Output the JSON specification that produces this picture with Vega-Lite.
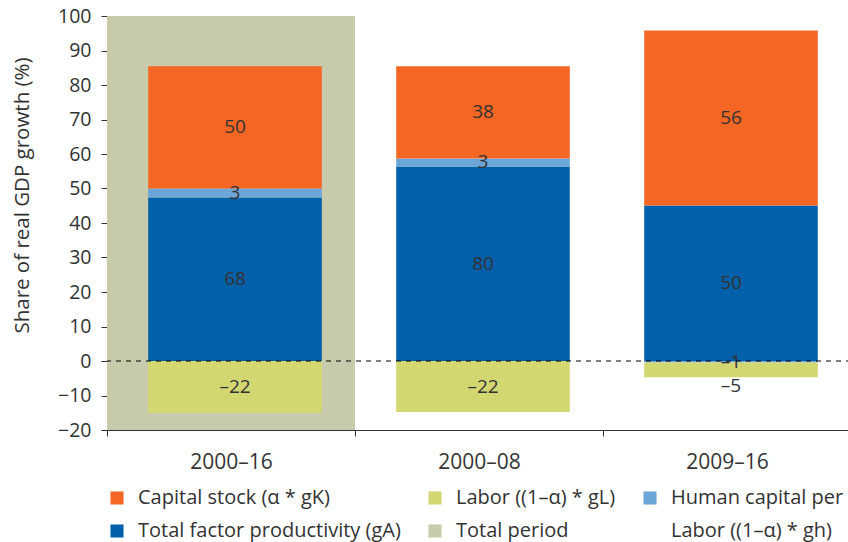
{
  "$schema": "https://vega.github.io/schema/vega-lite/v6.json",
  "width": 744,
  "height": 414,
  "autosize": "none",
  "padding": {"left": 107, "top": 16, "right": 0, "bottom": 112},
  "background": "white",
  "config": {
    "view": {"stroke": null},
    "font": "Open Sans",
    "axis": {"labelFont": "Open Sans", "titleFont": "Open Sans", "labelColor": "#333", "titleColor": "#333", "domainColor": "#333", "tickColor": "#333", "grid": false, "labelFontSize": 20, "titleFontSize": 20, "titleFontWeight": "normal", "tickSize": 6, "labelOverlap": false},
    "axisY": {"values": [-20, -10, 0, 10, 20, 30, 40, 50, 60, 70, 80, 90, 100], "labelOverlap": false, "labelFontSize": 19.5, "titleFontSize": 20.5, "titleX": -75, "titleY": 179, "labelPadding": 10, "labelSeparation": 0},
    "legend": {"labelFont": "Open Sans", "labelFontSize": 20, "labelColor": "#333", "labelLimit": 400}
  },
  "datasets": {
    "bars": [
      {"period": "2000–16", "component": "Total factor productivity (gA)", "ord": 1, "value": 47.4, "label": "68"},
      {"period": "2000–16", "component": "Human capital per Labor ((1–α) * gh)", "ord": 2, "value": 2.6, "label": "3"},
      {"period": "2000–16", "component": "Capital stock (α * gK)", "ord": 3, "value": 35.4, "label": "50"},
      {"period": "2000–16", "component": "Labor ((1–α) * gL)", "ord": 4, "value": -15.1, "label": "–22"},
      {"period": "2000–08", "component": "Total factor productivity (gA)", "ord": 1, "value": 56.4, "label": "80"},
      {"period": "2000–08", "component": "Human capital per Labor ((1–α) * gh)", "ord": 2, "value": 2.3, "label": "3"},
      {"period": "2000–08", "component": "Capital stock (α * gK)", "ord": 3, "value": 26.7, "label": "38"},
      {"period": "2000–08", "component": "Labor ((1–α) * gL)", "ord": 4, "value": -14.8, "label": "–22"},
      {"period": "2009–16", "component": "Total factor productivity (gA)", "ord": 1, "value": 45.1, "label": "50"},
      {"period": "2009–16", "component": "Human capital per Labor ((1–α) * gh)", "ord": 2, "value": -0.4, "label": "–1"},
      {"period": "2009–16", "component": "Capital stock (α * gK)", "ord": 3, "value": 50.7, "label": "56"},
      {"period": "2009–16", "component": "Labor ((1–α) * gL)", "ord": 4, "value": -4.3, "label": "–5"}
    ],
    "total": [
      {"period": "2000–16", "component": "Total period", "low": -20, "high": 100}
    ]
  },
  "layer": [
    {
      "data": {"name": "total"},
      "mark": {"type": "rect"},
      "encoding": {
        "x": {
          "field": "period", "type": "nominal",
          "scale": {"domain": ["2000–16", "2000–08", "2009–16"], "paddingInner": 0, "paddingOuter": 0},
          "axis": {"title": null, "labelAngle": 0, "tickBand": "extent", "labelPadding": 15, "labelFontSize": 21}
        },
        "y": {
          "field": "low", "type": "quantitative",
          "scale": {"domain": [-20, 100], "nice": false},
          "axis": {"title": "Share of real GDP growth (%)", "labelOverlap": false}
        },
        "y2": {"field": "high"},
        "color": {"field": "component", "type": "nominal"}
      }
    },
    {
      "data": {"name": "bars"},
      "mark": {"type": "bar", "width": {"band": 0.7}, "xOffset": 4},
      "encoding": {
        "x": {"field": "period", "type": "nominal"},
        "y": {"field": "value", "type": "quantitative", "stack": "zero", "axis": {"title": "Share of real GDP growth (%)", "labelOverlap": false}},
        "order": {"field": "ord", "type": "quantitative"},
        "color": {
          "field": "component", "type": "nominal",
          "scale": {
            "domain": ["Capital stock (α * gK)", "Total factor productivity (gA)", "Labor ((1–α) * gL)", "Total period", "Human capital per Labor ((1–α) * gh)", "Labor ((1–α) * gh)"],
            "range": ["#F46624", "#0060A9", "#D3D772", "#C7CAAB", "#6CA5D8", "rgba(255,255,255,0)"]
          },
          "legend": {
            "title": null, "orient": "none", "legendX": 0, "legendY": 472, "columns": 3,
            "symbolType": "square", "symbolSize": 170, "symbolStrokeWidth": 0,
            "labelOffset": 11, "columnPadding": 24, "rowPadding": 13,
            "labelExpr": "datum.label == 'Human capital per Labor ((1–α) * gh)' ? 'Human capital per' : datum.label"
          }
        }
      }
    },
    {
      "data": {"name": "bars"},
      "mark": {"type": "text", "fontSize": 19, "color": "#333", "baseline": "middle", "xOffset": 4},
      "encoding": {
        "x": {"field": "period", "type": "nominal"},
        "y": {"field": "value", "type": "quantitative", "stack": "zero", "bandPosition": 0.5, "axis": {"title": "Share of real GDP growth (%)", "labelOverlap": false}},
        "order": {"field": "ord", "type": "quantitative"},
        "text": {"condition": {"test": "datum.value < -2 && datum.value > -10", "value": ""}, "field": "label"}
      }
    },
    {
      "data": {"name": "bars"},
      "mark": {"type": "text", "fontSize": 19, "color": "#333", "baseline": "top", "dy": 0, "xOffset": 4},
      "encoding": {
        "x": {"field": "period", "type": "nominal"},
        "y": {"field": "value", "type": "quantitative", "stack": "zero", "axis": {"title": "Share of real GDP growth (%)", "labelOverlap": false}},
        "order": {"field": "ord", "type": "quantitative"},
        "text": {"condition": {"test": "datum.value < -2 && datum.value > -10", "field": "label"}, "value": ""}
      }
    },
    {
      "data": {"values": [{}]},
      "mark": {"type": "rule", "strokeDash": [5, 5], "color": "#000", "strokeWidth": 1},
      "encoding": {"y": {"datum": 0, "axis": {"title": "Share of real GDP growth (%)", "labelOverlap": false}}}
    }
  ]
}
